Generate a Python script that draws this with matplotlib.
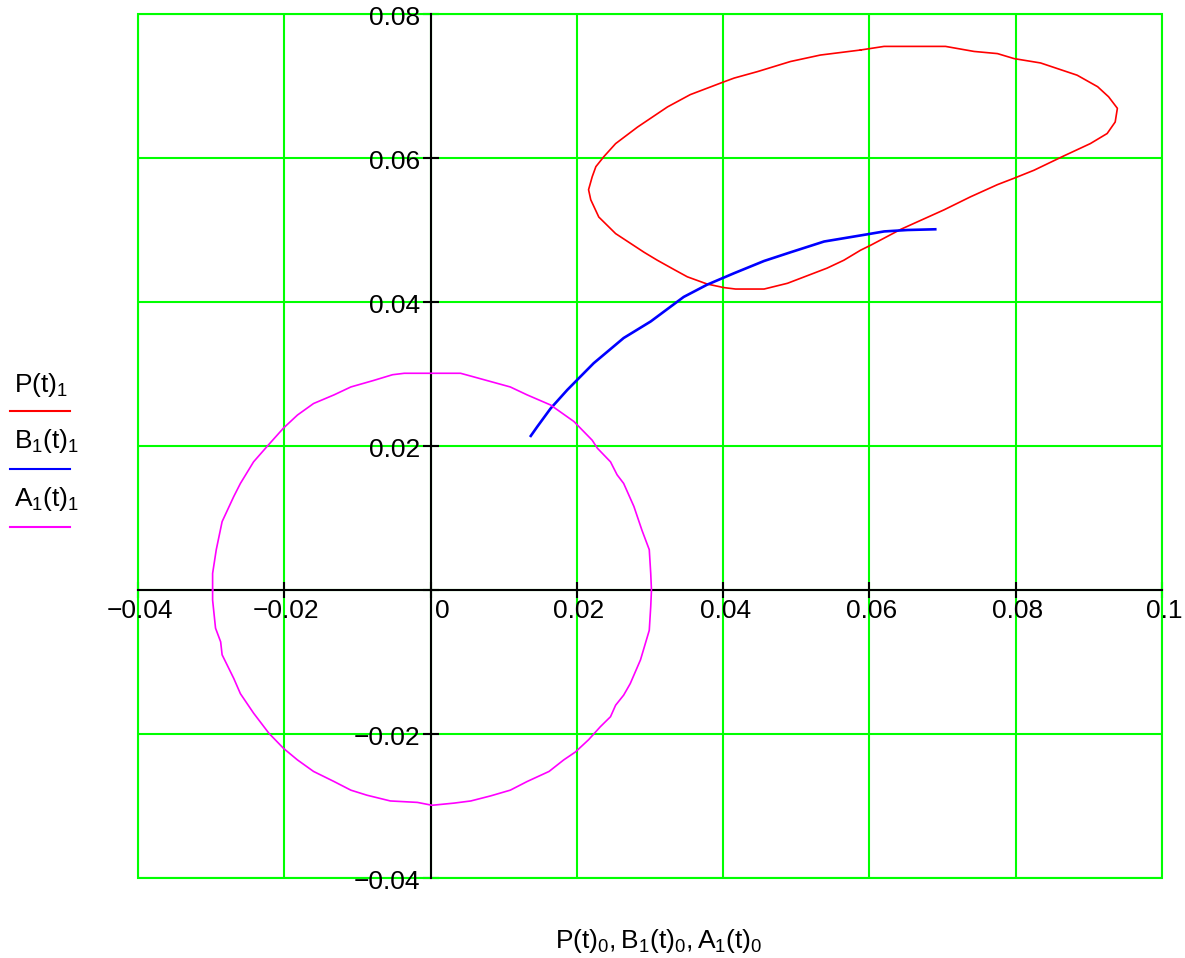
import matplotlib
matplotlib.use("Agg")
import matplotlib.pyplot as plt
from matplotlib import transforms
from matplotlib.lines import Line2D
from matplotlib.patches import Rectangle

plt.rcParams['font.family'] = ['Liberation Sans', 'DejaVu Sans']
plt.rcParams['mathtext.fontset'] = 'custom'
plt.rcParams['mathtext.rm'] = 'Liberation Sans'
plt.rcParams['mathtext.it'] = 'Liberation Sans'

# ---- data ----
# P(t): red closed loop
p_x = [0.0588, 0.0533, 0.0492, 0.0447, 0.0415, 0.0399, 0.0355, 0.0324, 0.0283, 0.0253,
       0.0237, 0.0226, 0.0221, 0.0216, 0.0219, 0.0230, 0.0253, 0.0292, 0.0310, 0.0333,
       0.0351, 0.0378, 0.0401, 0.0417, 0.0456, 0.0488, 0.0506, 0.0542, 0.0565, 0.0588,
       0.0602, 0.0643, 0.0702, 0.0738, 0.0775, 0.0798, 0.0825, 0.0866, 0.0902, 0.0925,
       0.0936, 0.0939, 0.0927, 0.0912, 0.0884, 0.0834, 0.0798, 0.0775, 0.0743, 0.0704,
       0.0620, 0.0588]
p_y = [0.0750, 0.0743, 0.0734, 0.0720, 0.0711, 0.0705, 0.0688, 0.0671, 0.0643, 0.0620,
       0.0602, 0.0588, 0.0574, 0.0556, 0.0542, 0.0518, 0.0495, 0.0469, 0.0458, 0.0445,
       0.0435, 0.0425, 0.0420, 0.0418, 0.0418, 0.0426, 0.0433, 0.0447, 0.0458, 0.0472,
       0.0479, 0.0501, 0.0528, 0.0546, 0.0563, 0.0572, 0.0583, 0.0603, 0.0620, 0.0634,
       0.0650, 0.0669, 0.0685, 0.0699, 0.0715, 0.0732, 0.0738, 0.0745, 0.0748, 0.0755,
       0.0755, 0.0750]

# B1(t): blue curve
b_x = [0.0137, 0.0146, 0.0164, 0.0187, 0.0223, 0.0264, 0.0301, 0.0346, 0.0378, 0.0415,
       0.0456, 0.0492, 0.0538, 0.0597, 0.0620, 0.0652, 0.0690]
b_y = [0.0214, 0.0227, 0.0252, 0.0278, 0.0315, 0.0350, 0.0373, 0.0407, 0.0424, 0.0440,
       0.0457, 0.0469, 0.0484, 0.0494, 0.0498, 0.0500, 0.0501]

# A1(t): magenta closed curve
a_x = [-0.0298, -0.0298, -0.0293, -0.0285, -0.0269, -0.0260, -0.0242, -0.0223, -0.0201, -0.0182,
       -0.0160, -0.0132, -0.0109, -0.0078, -0.0052, -0.0036, 0.0000, 0.0041, 0.0059, 0.0109,
       0.0132, 0.0164, 0.0196, 0.0221, 0.0228, 0.0246, 0.0255, 0.0264, 0.0278, 0.0289,
       0.0299, 0.0301, 0.0302, 0.0301, 0.0299, 0.0287, 0.0273, 0.0264, 0.0253, 0.0246,
       0.0232, 0.0216, 0.0198, 0.0182, 0.0162, 0.0132, 0.0109, 0.0082, 0.0055, 0.0032,
       0.0002, -0.0018, -0.0055, -0.0087, -0.0109, -0.0132, -0.0160, -0.0182, -0.0201, -0.0221,
       -0.0242, -0.0260, -0.0269, -0.0285, -0.0287, -0.0294, -0.0298, -0.0298]
a_y = [0.0000, 0.0023, 0.0056, 0.0095, 0.0130, 0.0148, 0.0178, 0.0200, 0.0225, 0.0243,
       0.0259, 0.0271, 0.0282, 0.0291, 0.0299, 0.0301, 0.0301, 0.0301, 0.0296, 0.0282,
       0.0271, 0.0257, 0.0234, 0.0208, 0.0197, 0.0178, 0.0160, 0.0148, 0.0116, 0.0083,
       0.0056, 0.0023, 0.0000, -0.0023, -0.0056, -0.0097, -0.0130, -0.0146, -0.0160, -0.0176,
       -0.0190, -0.0208, -0.0225, -0.0236, -0.0252, -0.0266, -0.0278, -0.0286, -0.0293, -0.0296,
       -0.0299, -0.0295, -0.0293, -0.0285, -0.0278, -0.0266, -0.0252, -0.0236, -0.0220, -0.0199,
       -0.0171, -0.0144, -0.0123, -0.0090, -0.0072, -0.0053, -0.0014, 0.0000]

x_ticks = [-0.04, -0.02, 0.0, 0.02, 0.04, 0.06, 0.08, 0.1]
x_tick_labels = ['\u22120.04', '\u22120.02', '0', '0.02', '0.04', '0.06', '0.08', '0.1']
y_ticks = [-0.04, -0.02, 0.0, 0.02, 0.04, 0.06, 0.08]
y_tick_labels = ['\u22120.04', '\u22120.02', '', '0.02', '0.04', '0.06', '0.08']

legend_labels = [r'$\mathrm{P(t)_1}$', r'$\mathrm{B_1(t)_1}$', r'$\mathrm{A_1(t)_1}$']
colors = ['#ff0000', '#0000ff', '#ff00ff']
x_label = r'$\mathrm{P(t)_0,B_1(t)_0,A_1(t)_0}$'

# ---- figure ----
W, H = 1185, 958
fig = plt.figure(figsize=(W / 100, H / 100), dpi=100)
ax = fig.add_axes([138 / W, 1 - 878 / H, (1162 - 138) / W, (878 - 14) / H])
ax.set_xlim(x_ticks[0], x_ticks[-1])
ax.set_ylim(y_ticks[0], y_ticks[-1])

green = '#00ff00'
ax.set_xticks(x_ticks)
ax.set_yticks(y_ticks)
ax.grid(True, color=green, linewidth=1.5)
ax.set_axisbelow(True)
for s in ['top', 'right']:
    ax.spines[s].set_visible(False)
ax.spines['left'].set_position(('data', 0))
ax.spines['bottom'].set_position(('data', 0))
for s in ['left', 'bottom']:
    ax.spines[s].set_color('black')
    ax.spines[s].set_linewidth(1.5)
    ax.spines[s].set_zorder(2.5)
ax.tick_params(direction='inout', length=12, width=1.5, color='black',
               labelbottom=False, labelleft=False)
ax.add_patch(Rectangle((0, 0), 1, 1, transform=ax.transAxes, fill=False,
                       edgecolor=green, linewidth=1.5, clip_on=False, zorder=1))

ax.plot(p_x, p_y, color=colors[0], linewidth=1.2, zorder=3)
ax.plot(b_x, b_y, color=colors[1], linewidth=1.9, zorder=3)
ax.plot(a_x, a_y, color=colors[2], linewidth=1.2, zorder=3)

fs = 19
for xv, lab in zip(x_ticks, x_tick_labels):
    if lab == '0':
        tr = transforms.offset_copy(ax.transData, fig=fig, x=4, y=-21, units='dots')
        ax.text(xv, 0, lab, transform=tr, ha='left', va='center', fontsize=fs)
    else:
        tr = transforms.offset_copy(ax.transData, fig=fig, x=2, y=-21, units='dots')
        ax.text(xv, 0, lab, transform=tr, ha='center', va='center', fontsize=fs,
                clip_on=False)
for yv, lab in zip(y_ticks, y_tick_labels):
    if not lab:
        continue
    tr = transforms.offset_copy(ax.transData, fig=fig, x=-10, y=-4, units='dots')
    ax.text(0, yv, lab, transform=tr, ha='right', va='center', fontsize=fs)

# legend at left
text_base = [392, 448, 506]
line_y = [411, 469, 527]
for lab, c, tb, ly in zip(legend_labels, colors, text_base, line_y):
    fig.text(14 / W, 1 - tb / H, lab, ha='left', va='baseline', fontsize=fs)
    fig.add_artist(Line2D([10 / W, 70 / W], [1 - ly / H, 1 - ly / H],
                          transform=fig.transFigure, color=c, linewidth=1.5))

fig.text(659 / W, 1 - 948 / H, x_label, ha='center', va='baseline', fontsize=fs)

fig.savefig('out.png', dpi=100)
